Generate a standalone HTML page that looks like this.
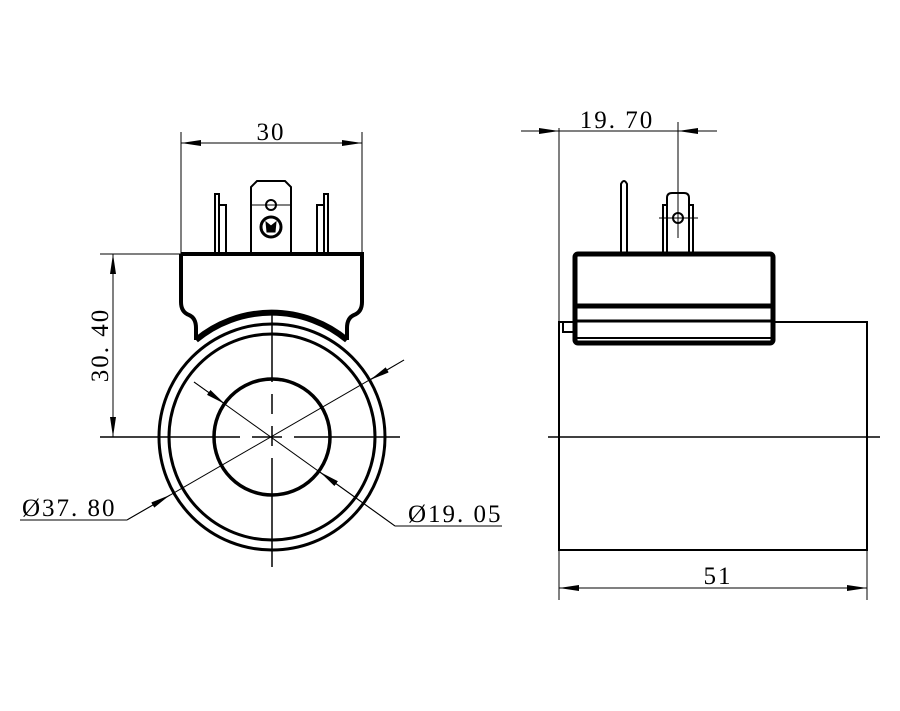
<!DOCTYPE html>
<html><head><style>body{margin:0;background:#fff}svg{display:block}</style></head><body>
<svg width="900" height="711" viewBox="0 0 900 711" xmlns="http://www.w3.org/2000/svg">
<defs>
<marker id="a" viewBox="0 0 20 6" refX="20" refY="3" markerWidth="20" markerHeight="6" markerUnits="userSpaceOnUse" orient="auto-start-reverse"><path d="M0,0 L20,3 L0,6 Z" fill="#000"/></marker>
</defs>
<g fill="none" stroke="#000">
<circle cx="272" cy="437" r="113" stroke-width="3"/>
<circle cx="272" cy="437" r="103" stroke-width="3"/>
<circle cx="272" cy="437" r="58" stroke-width="3.5"/>
<path d="M181,254 H362 V302 Q362,312 354,315 Q347,318 347,328 V340 M181,254 V302 Q181,312 189,315 Q196,318 196,328 V340" stroke-width="4"/>
<path d="M196,340 A118 118 0 0 1 347,340" stroke-width="6"/>
<path d="M215,254 V194 H219 V205 H226 V254 M219,205 V254" stroke-width="2"/>
<path d="M328,254 V194 H324 V205 H317 V254 M324,205 V254" stroke-width="2"/>
<path d="M251,254 V187 L257,181 H285 L291,187 V254" stroke-width="2"/>
<line x1="251" y1="205" x2="291" y2="205" stroke-width="1"/>
<circle cx="271" cy="205" r="5" stroke-width="2"/>
<circle cx="271" cy="227" r="10" stroke-width="3"/>
<path d="M266,222 L271,226 L276,222 L275,232 H267 Z" fill="#000" stroke-width="1"/>
<line x1="100" y1="437" x2="400" y2="437" stroke-width="1.5" stroke-dasharray="140,12,30,12,200"/>
<line x1="272" y1="312" x2="272" y2="567" stroke-width="1.5" stroke-dasharray="70,12,20,12,20,12,200"/>
<line x1="181" y1="132" x2="181" y2="254" stroke-width="1"/>
<line x1="362" y1="132" x2="362" y2="254" stroke-width="1"/>
<line x1="181" y1="143" x2="362" y2="143" stroke-width="1" marker-start="url(#a)" marker-end="url(#a)"/>
<line x1="100" y1="254" x2="181" y2="254" stroke-width="1"/>
<line x1="113" y1="254" x2="113" y2="437" stroke-width="1" marker-start="url(#a)" marker-end="url(#a)"/>
<line x1="127" y1="520" x2="404" y2="360" stroke-width="1"/>
<line x1="127" y1="520" x2="170" y2="495" marker-end="url(#a)" stroke-width="1"/>
<line x1="404" y1="360" x2="370" y2="380" marker-end="url(#a)" stroke-width="1"/>
<polyline points="20,520 127,520" stroke-width="1"/>
<line x1="194" y1="382" x2="395" y2="526" stroke-width="1"/>
<line x1="194" y1="382" x2="225" y2="404" marker-end="url(#a)" stroke-width="1"/>
<line x1="395" y1="526" x2="320" y2="472" marker-end="url(#a)" stroke-width="1"/>
<line x1="395" y1="526" x2="502" y2="526" stroke-width="1"/>
<rect x="559" y="322" width="308" height="228" stroke-width="2"/>
<rect x="575" y="254" width="198" height="89" rx="3" fill="#fff" stroke-width="5"/>
<line x1="575" y1="306" x2="773" y2="306" stroke-width="5"/>
<line x1="575" y1="321" x2="773" y2="321" stroke-width="3"/>
<line x1="575" y1="338" x2="773" y2="338" stroke-width="2"/>
<rect x="563" y="322" width="12" height="10" stroke-width="2"/>
<path d="M621,254 V184 Q624,178 627,184 V254" stroke-width="2"/>
<path d="M663,254 V205 H667 V198 Q667,193 672,193 H684 Q689,193 689,198 V205 H693 V254 M667,205 V254 M689,205 V254" stroke-width="2"/>
<circle cx="678" cy="218" r="5" stroke-width="2"/>
<line x1="659" y1="218" x2="698" y2="218" stroke-width="1"/>
<line x1="678" y1="122" x2="678" y2="238" stroke-width="1"/>
<line x1="559" y1="128" x2="559" y2="322" stroke-width="1"/>
<line x1="521" y1="131" x2="559" y2="131" stroke-width="1" marker-end="url(#a)"/>
<line x1="717" y1="131" x2="678" y2="131" stroke-width="1" marker-end="url(#a)"/>
<line x1="559" y1="131" x2="678" y2="131" stroke-width="1"/>
<line x1="548" y1="437" x2="880" y2="437" stroke-width="1.5"/>
<line x1="559" y1="550" x2="559" y2="600" stroke-width="1"/>
<line x1="867" y1="550" x2="867" y2="600" stroke-width="1"/>
<line x1="559" y1="588" x2="867" y2="588" stroke-width="1" marker-start="url(#a)" marker-end="url(#a)"/>
</g>
<g font-family="Liberation Serif, serif" font-size="25" fill="#000" style="letter-spacing:2px">
<text x="271" y="140" text-anchor="middle">30</text>
<text transform="translate(108,345) rotate(-90)" text-anchor="middle">30. 40</text>
<text x="22" y="516">Ø37. 80</text>
<text x="408" y="522">Ø19. 05</text>
<text x="617" y="128" text-anchor="middle">19. 70</text>
<text x="718" y="584" text-anchor="middle">51</text>
</g>
</svg>
</body></html>
